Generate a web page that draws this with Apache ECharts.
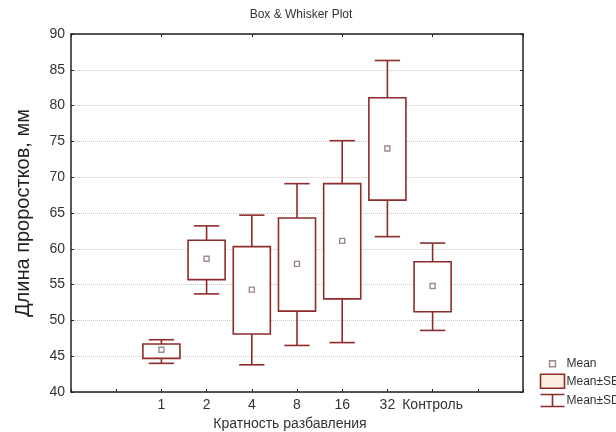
<!DOCTYPE html>
<html lang="ru">
<head>
<meta charset="UTF-8">
<title>Box & Whisker Plot</title>
<style>
  * { margin: 0; padding: 0; }
  #main { width: 616px; height: 432px; background: #fff; }
</style>
<script src="https://cdn.jsdelivr.net/npm/echarts@6/dist/echarts.min.js"></script>
</head>
<body>
<div id="main"></div>
<script>
// values
var categories = ['1', '2', '4', '8', '16', '32', 'Контроль'];
var means  = [45.9, 58.6, 54.3, 57.9, 61.1, 74.0, 54.8];
var seLow  = [44.7, 55.7, 48.1, 51.3, 53.0, 66.8, 51.2];
var seHigh = [46.7, 61.2, 60.3, 64.3, 69.1, 81.1, 58.2];
var sdLow  = [44.0, 53.7, 43.8, 46.5, 46.9, 61.7, 48.6];
var sdHigh = [47.3, 63.2, 64.7, 69.1, 75.1, 86.3, 60.8];
var yTicks = [40, 45, 50, 55, 60, 65, 70, 75, 80, 85, 90];

var RED = '#8e2b2b';
var FONT = '"Liberation Sans", Arial, sans-serif';

// two empty slots on each side, like the original plot
var axisCats = ['', ' '].concat(categories).concat(['  ', '   ']);
var OFF = 2;

var meanData = [], seData = [], sdData = [];
for (var i = 0; i < categories.length; i++) {
    meanData.push([i + OFF, means[i]]);
    seData.push([i + OFF, seLow[i], seHigh[i]]);
    sdData.push([i + OFF, sdLow[i], sdHigh[i]]);
}

function renderSD(params, api) {
    var x = api.value(0);
    var lo = api.coord([x, api.value(1)]);
    var hi = api.coord([x, api.value(2)]);
    var half = api.size([1, 0])[0] * 0.28;
    var st = { stroke: RED, lineWidth: 1.6, fill: null };
    return {
        type: 'group',
        children: [
            { type: 'line', shape: { x1: lo[0], y1: lo[1], x2: hi[0], y2: hi[1] }, style: st },
            { type: 'line', shape: { x1: lo[0] - half, y1: lo[1], x2: lo[0] + half, y2: lo[1] }, style: st },
            { type: 'line', shape: { x1: hi[0] - half, y1: hi[1], x2: hi[0] + half, y2: hi[1] }, style: st }
        ]
    };
}

function renderSE(params, api) {
    var x = api.value(0);
    var lo = api.coord([x, api.value(1)]);
    var hi = api.coord([x, api.value(2)]);
    var w = api.size([1, 0])[0] * 0.82;
    return {
        type: 'rect',
        shape: { x: lo[0] - w / 2, y: hi[1], width: w, height: lo[1] - hi[1] },
        style: { fill: '#fff', stroke: RED, lineWidth: 1.6 }
    };
}

var myChart = echarts.init(document.getElementById('main'));

var option = {
    animation: false,
    backgroundColor: '#fff',
    textStyle: { fontFamily: FONT },
    title: {
        text: 'Box & Whisker Plot',
        left: 296,
        textAlign: 'center',
        top: 4,
        textStyle: { fontSize: 12, fontWeight: 'normal', color: '#333', fontFamily: FONT }
    },
    grid: { left: 71, right: 93, top: 34, bottom: 40, outerBoundsMode: 'none', containLabel: false },
    legend: {
        orient: 'vertical',
        left: 533,
        top: 351,
        itemWidth: 24,
        itemHeight: 14,
        itemGap: 2,
        selectedMode: false,
        textStyle: { fontSize: 12, color: '#333', fontFamily: FONT, padding: [0, 0, 0, -3] },
        data: [
            {
                name: 'Mean',
                icon: 'path://M0,0M24,14M9,4h6v6h-6z',
                itemStyle: { color: '#fff', borderColor: '#8a6a6a', borderWidth: 1.4 }
            },
            {
                name: 'Mean±SE',
                icon: 'path://M0,0h24v14h-24z',
                itemStyle: { color: '#fbefe2', borderColor: RED, borderWidth: 1.6 }
            },
            {
                name: 'Mean±SD',
                icon: 'path://M0,1h24M12,1v12M0,13h24M0,0M24,14',
                itemStyle: { color: 'none', borderColor: RED, borderWidth: 1.6 }
            }
        ]
    },
    xAxis: [
        {
            type: 'category',
            data: axisCats,
            boundaryGap: false,
            name: 'Кратность разбавления',
            nameLocation: 'middle',
            nameGap: 24,
            nameTextStyle: { fontSize: 14, color: '#333', fontFamily: FONT, padding: [0, 14, 0, 0] },
            axisLine: { lineStyle: { color: '#222', width: 1.5 } },
            axisTick: { inside: true, length: 3, lineStyle: { color: '#222' } },
            axisLabel: { interval: 0, fontSize: 14, color: '#333', margin: 6, fontFamily: FONT },
            splitLine: { show: false }
        },
        {
            type: 'category',
            data: axisCats,
            boundaryGap: false,
            position: 'top',
            axisLine: { lineStyle: { color: '#222', width: 1.5 } },
            axisTick: { inside: true, length: 3, lineStyle: { color: '#222' } },
            axisLabel: { show: false },
            splitLine: { show: false }
        }
    ],
    yAxis: [
        {
            type: 'value',
            min: yTicks[0],
            max: yTicks[yTicks.length - 1],
            interval: yTicks[1] - yTicks[0],
            name: 'Длина проростков, мм',
            nameLocation: 'middle',
            nameGap: 38,
            nameTextStyle: { fontSize: 20, color: '#222', fontFamily: FONT },
            axisLine: { show: true, lineStyle: { color: '#222', width: 1.5 } },
            axisTick: { show: true, inside: true, length: 3, lineStyle: { color: '#222' } },
            axisLabel: { fontSize: 14, color: '#333', margin: 6, fontFamily: FONT },
            splitLine: { show: true, lineStyle: { color: '#c8c8c8', type: 'dotted', width: 1 } }
        },
        {
            type: 'value',
            position: 'right',
            min: yTicks[0],
            max: yTicks[yTicks.length - 1],
            interval: yTicks[1] - yTicks[0],
            axisLine: { show: true, lineStyle: { color: '#222', width: 1.5 } },
            axisTick: { show: true, inside: true, length: 3, lineStyle: { color: '#222' } },
            axisLabel: { show: false },
            splitLine: { show: false }
        }
    ],
    series: [
        {
            name: 'Mean±SD',
            type: 'custom',
            renderItem: renderSD,
            itemStyle: { color: 'none', borderColor: RED },
            encode: { x: 0, y: [1, 2] },
            data: sdData,
            z: 2
        },
        {
            name: 'Mean±SE',
            type: 'custom',
            renderItem: renderSE,
            itemStyle: { color: '#fbefe2', borderColor: RED },
            encode: { x: 0, y: [1, 2] },
            data: seData,
            z: 3
        },
        {
            name: 'Mean',
            type: 'scatter',
            symbol: 'rect',
            symbolSize: 5,
            itemStyle: { color: '#fff', borderColor: '#8a6a6a', borderWidth: 1.4 },
            data: meanData,
            z: 4
        }
    ]
};

myChart.setOption(option);
</script>
</body>
</html>
